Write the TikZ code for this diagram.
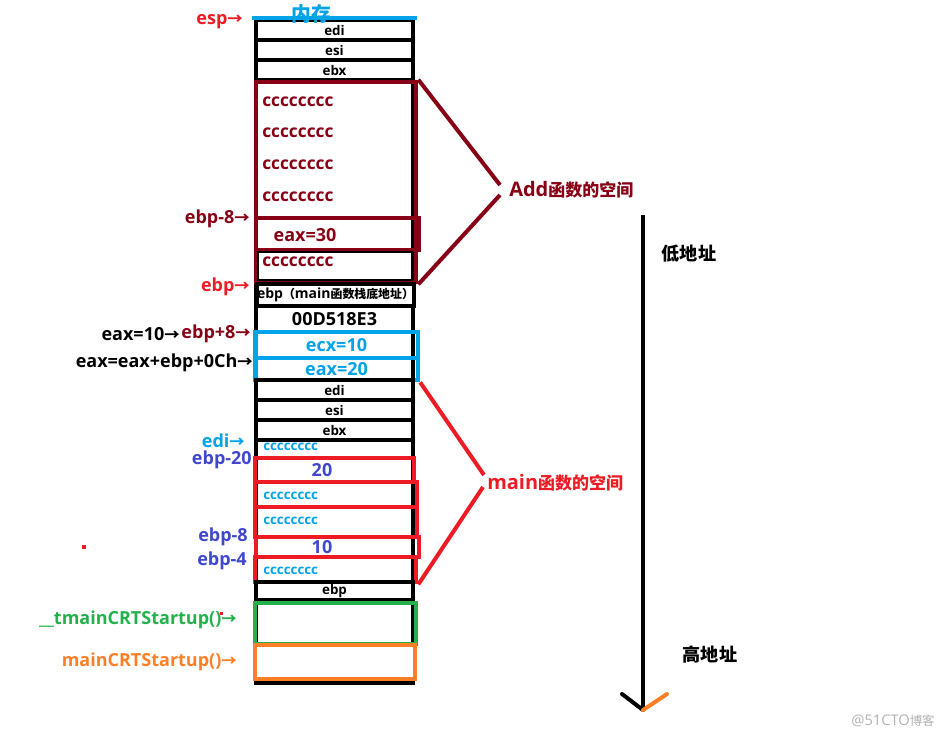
\documentclass[tikz,border=0pt]{standalone}
\usepackage{fontspec}
\setmainfont{Open Sans}
\newfontfamily\cjk{Noto Sans CJK SC}[Scale=0.85]
\usetikzlibrary{positioning,calc}
\definecolor{addcol}{RGB}{136,0,21}
\definecolor{maincol}{RGB}{237,28,36}
\definecolor{regcol}{RGB}{0,162,232}
\definecolor{offcol}{RGB}{63,72,204}
\definecolor{tmaincol}{RGB}{34,177,76}
\definecolor{crtcol}{RGB}{255,127,39}
\newcommand\cellfnt{\bfseries\fontsize{10}{12}\selectfont}
\newcommand\lblfnt{\bfseries\fontsize{13.5}{15}\selectfont}
\newcommand\bigfnt{\bfseries\fontsize{15}{17}\selectfont}
\newcommand\ar{{\cjk →}}

\begin{document}
\begin{tikzpicture}[
  x=0.75pt, y=-0.75pt,
  cell/.style={draw, line width=3pt, fill=white, inner sep=0pt,
               minimum width=117.75pt, font=\cellfnt},
  addbox/.style={draw=addcol, line width=3.5pt, inner sep=0pt, minimum width=120pt},
  regbox/.style={draw=regcol, line width=3.5pt, inner sep=0pt, minimum width=122pt,
                 text=regcol, font=\lblfnt},
  mainbox/.style={draw=maincol, line width=3.5pt, inner sep=0pt, minimum width=120pt},
  ca/.style={anchor=west, inner sep=0pt, font=\bfseries\fontsize{13}{15}\selectfont, text=addcol},
  cc/.style={anchor=west, inner sep=0pt, font=\bfseries\fontsize{10}{12}\selectfont, text=regcol},
  ptr/.style={anchor=east, inner sep=0pt, font=\lblfnt},
  side/.style={anchor=west, inner sep=0pt, font=\bigfnt},
  e/.style={line width=3pt},
]
\useasboundingbox (0,0) rectangle (946,739);

% the stack
\node[draw, line width=3pt, minimum width=117.75pt, minimum height=497.25pt] (stack) at (334.5,351.5) {};
\node[cell, minimum height=15pt] (edi1) at (334.5,30) {edi};
\node[cell, minimum height=15pt] (esi1) at (334.5,50) {esi};
\node[cell, minimum height=15pt] (ebx1) at (334.5,70) {ebx};

% Add frame
\node[addbox, minimum height=150pt] (addfr) at (336,182) {};
\node[ca] (ca1) at (262,102) {cccccccc};
\node[ca] (ca2) at (262,133) {cccccccc};
\node[ca] (ca3) at (262,165) {cccccccc};
\node[ca] (ca4) at (262,197) {cccccccc};
\node[addbox, minimum width=122.25pt, minimum height=24pt] (eax30) at (337.5,234) {};
\node[ca, anchor=center, font=\lblfnt] (eax30t) at (305,235) {eax=30};
\node[draw, line width=1.2pt, minimum width=115.5pt, minimum height=21pt] (cabox) at (335,266) {};
\node[ca] (ca5) at (262,262) {cccccccc};

% main frame
\node[cell, minimum height=16.5pt, font=\bfseries\fontsize{10.5}{12}\selectfont] (ebpm) at (335.5,295) {ebp{\cjk（}main{\cjk 函数栈底地址）}};
\node[cell, minimum height=19.5pt, font=\lblfnt] (ret) at (334.5,319) {00D518E3};
\node[regbox, minimum height=19.5pt] (ecx) at (336.5,345) {ecx=10};
\node[regbox, minimum height=16.5pt] (eax20) at (336.5,369) {eax=20};
\node[cell, minimum height=15pt] (edi2) at (334.5,390) {edi};
\node[cell, minimum height=15pt] (esi2) at (334.5,410) {esi};
\node[cell, minimum height=15pt] (ebx2) at (334.5,430) {ebx};
\node[cell, minimum height=13.5pt] (ccm) at (334.5,449) {};
\node[cc] (ccmt) at (263,447) {cccccccc};
\node[mainbox, minimum width=119.25pt, minimum height=18pt] (v20) at (334.5,470) {};
\node[font=\lblfnt, text=offcol] (v20t) at (322,470) {20};
\node[mainbox, minimum width=121.5pt, minimum height=18.75pt] (cm1) at (336,494.5) {};
\node[cc] (cm1t) at (263,496) {cccccccc};
\node[mainbox, minimum width=121.5pt, minimum height=22.5pt] (cm2) at (336,522) {};
\node[cc] (cm2t) at (263,521) {cccccccc};
\node[mainbox, minimum width=122.25pt, minimum height=15pt] (v10) at (337.5,547) {};
\node[font=\lblfnt, text=offcol] (v10t) at (322,547) {10};
\node[mainbox, minimum width=120.75pt, minimum height=18.75pt] (cm3) at (335.5,569.5) {};
\node[cc] (cm3t) at (263,571) {cccccccc};
\node[cell, minimum height=13.5pt] (ebp2) at (334.5,591) {ebp};
\node[draw=tmaincol, line width=3.5pt, minimum width=120.75pt, minimum height=30.75pt] (tmainfr) at (335.5,623.5) {};
\node[draw=crtcol, line width=3.5pt, fill=white, minimum width=120pt, minimum height=25.5pt] (crtfr) at (335,662) {};

\draw[regcol, line width=2.5pt] ([xshift=-1.5pt]edi1.north west) -- ([xshift=1.5pt]edi1.north east);
\node[inner sep=0pt, text=regcol, font=\bfseries\fontsize{17.5}{19}\selectfont\cjk] (mem) at (311,14) {内存};

% pointers on the left
\node[ptr, text=maincol] (esp) at (243,22) {esp\ar};
\node[ptr, text=addcol] (ebpm8) at (250,219) {ebp-8\ar};
\node[ptr, text=maincol] (ebpl) at (250,287) {ebp\ar};
\node[ptr, text=addcol] (ebpp8) at (251,334) {ebp+8\ar};
\node[ptr, left=1pt of ebpp8] (eax10) {eax=10\ar};
\node[ptr] (eaxsum) at (253,363) {eax=eax+ebp+0Ch\ar};
\node[ptr, text=regcol] (edil) at (245,441) {edi\ar};
\node[ptr, text=offcol] (ebpm20) at (252,460) {ebp-20};
\node[ptr, text=offcol] (ebpm8b) at (248,537) {ebp-8};
\node[ptr, text=offcol] (ebpm4) at (247,561) {ebp-4};
\node[ptr, text=tmaincol] (tmainl) at (237,620) {\_\_tmainCRTStartup()\ar};
\node[ptr, text=crtcol] (crtl) at (237,662) {mainCRTStartup()\ar};
\fill[maincol] (82,545) rectangle (86,549);
\fill[maincol] (220,612) rectangle (223,615);

% frames on the right
\node[side, text=addcol] (addl) at (509,190) {Add{\cjk 函数的空间}};
\node[side, text=maincol] (mainl) at (487,483) {main{\cjk 函数的空间}};
\draw[addcol, e] (addfr.north east) -- ([shift={(-9,-5)}]addl.west);
\draw[addcol, e] (addfr.south east) -- ([shift={(-9,5)}]addl.west);
\draw[maincol, e] (eax20.south east) -- ([shift={(-3,-8)}]mainl.west);
\draw[maincol, e] (cm3.south east) -- ([shift={(-4,4)}]mainl.west);

% address direction
\coordinate (lowaddr) at (643,215);
\coordinate (highaddr) at (643,710);
\draw[e] (lowaddr) -- (highaddr);
\draw[e, line cap=round] (highaddr) -- ++(-21,-16);
\draw[e, crtcol, line cap=round] (highaddr) -- ++(24,-16);
\node[font=\bfseries\fontsize{16}{18}\selectfont\cjk] (lowl) at (689,254) {低地址};
\node[font=\bfseries\fontsize{16}{18}\selectfont\cjk] (highl) at (710,655) {高地址};
\node[text=black!30, font=\fontsize{11}{12}\selectfont] (wm) at (893,721) {@51CTO{\cjk 博客}};
\end{tikzpicture}
\end{document}
